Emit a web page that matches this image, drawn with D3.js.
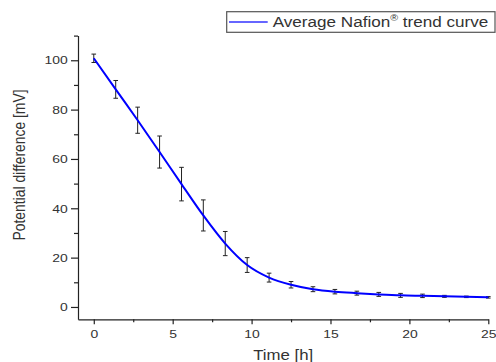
<!DOCTYPE html>
<html>
<head>
<meta charset="utf-8">
<script src="https://cdn.jsdelivr.net/npm/d3@7"></script>
<style>
  html, body { margin: 0; padding: 0; background: #fff; }
  svg { display: block; }
  text { font-family: "Liberation Sans", Arial, sans-serif; fill: #333; }
</style>
</head>
<body>
<svg id="chart" width="496" height="362"></svg>
<script>
// Data
const timeH = [0, 1.39, 2.78, 4.17, 5.56, 6.94, 8.33, 9.72, 11.11, 12.5, 13.89, 15.28, 16.67, 18.06, 19.44, 20.83, 22.22, 23.61, 25];
const potential = [100.8, 88.2, 75.7, 62.8, 49.8, 37.1, 25.7, 17.0, 11.9, 9.0, 7.2, 6.2, 5.6, 5.1, 4.7, 4.5, 4.3, 4.1, 3.9];
const errors = [1.7, 3.6, 5.3, 6.5, 6.8, 6.3, 4.9, 3.0, 1.8, 1.3, 1.0, 0.9, 0.8, 0.8, 0.8, 0.7, 0.4, 0.3, 0.3];
const xMajorTicks = [0, 5, 10, 15, 20, 25];
const xMinorTicks = [2.5, 7.5, 12.5, 17.5, 22.5];
const yMajorTicks = [0, 20, 40, 60, 80, 100];
const yMinorTicks = [10, 30, 50, 70, 90, 110];
const legendLabel = "Average Nafion";
const legendSup = "®";
const legendRest = " trend curve";
const xTitle = "Time [h]";
const yTitle = "Potential difference [mV]";

const data = timeH.map((t, i) => ({ t, v: potential[i], e: errors[i] }));

const svg = d3.select("#chart");
const SX = 1.2; // horizontal stretch of the reference's text

const x = d3.scaleLinear().domain([-1, 25]).range([78, 488.3]);
const y = d3.scaleLinear().domain([-5, 110]).range([319.3, 35.6]);

// X axis
const xAxis = svg.append("g").attr("transform", `translate(0,${y(-5)})`)
  .call(d3.axisBottom(x).tickValues(xMajorTicks).tickSize(5).tickSizeOuter(0).tickFormat(d3.format("d")));
xAxis.selectAll("text").attr("font-size", 11.6).attr("transform", `scale(${SX},1)`)
  .attr("x", function(d){ return 0; })
  .each(function(d){ d3.select(this).attr("x", 0); });
// reposition x tick labels to account for scale: place text inside tick group
xAxis.selectAll(".tick").each(function(){
  d3.select(this).select("text").attr("y", 10.5).attr("dy", "0.71em");
});
svg.append("g").attr("transform", `translate(0,${y(-5)})`)
  .call(d3.axisBottom(x).tickValues(xMinorTicks).tickSize(3).tickSizeOuter(0).tickFormat(""))
  .select(".domain").remove();

// Y axis
const yAxis = svg.append("g").attr("transform", `translate(${x(-1)},0)`)
  .call(d3.axisLeft(y).tickValues(yMajorTicks).tickSize(7).tickSizeOuter(0).tickFormat(d3.format("d")));
yAxis.selectAll("text").attr("font-size", 11.6).attr("x", -10.3 / SX).attr("transform", `scale(${SX},1)`);
svg.append("g").attr("transform", `translate(${x(-1)},0)`)
  .call(d3.axisLeft(y).tickValues(yMinorTicks).tickSize(4).tickSizeOuter(0).tickFormat(""))
  .select(".domain").remove();

svg.selectAll(".domain, .tick line").attr("stroke", "#222").attr("stroke-width", 1.2);
svg.selectAll(".tick text").attr("fill", "#333").attr("font-family", "Liberation Sans, Arial, sans-serif");

// Axis titles
svg.append("text")
  .attr("transform", `translate(${(x(-1) + x(25)) / 2},360.3) scale(${SX},1)`)
  .attr("text-anchor", "middle").attr("font-size", 14).text(xTitle);
svg.append("text")
  .attr("transform", `translate(24.5,165) scale(${SX},1) rotate(-90)`)
  .attr("text-anchor", "middle").attr("font-size", 13.9).text(yTitle);

// Error bars
const eb = svg.append("g").attr("stroke", "#222").attr("stroke-width", 1);
data.forEach(d => {
  const cx = x(d.t);
  eb.append("line").attr("x1", cx).attr("x2", cx).attr("y1", y(d.v - d.e)).attr("y2", y(d.v + d.e));
  eb.append("line").attr("x1", cx - 2.3).attr("x2", cx + 2.3).attr("y1", y(d.v - d.e)).attr("y2", y(d.v - d.e));
  eb.append("line").attr("x1", cx - 2.3).attr("x2", cx + 2.3).attr("y1", y(d.v + d.e)).attr("y2", y(d.v + d.e));
});

// Trend curve
const line = d3.line().x(d => x(d.t)).y(d => y(d.v)).curve(d3.curveMonotoneX);
svg.append("path").datum(data).attr("d", line)
  .attr("fill", "none").attr("stroke", "#0000ff").attr("stroke-width", 2);

// Legend
const lg = svg.append("g");
lg.append("rect").attr("x", 226.7).attr("y", 11.7).attr("width", 268.3).attr("height", 20.6)
  .attr("fill", "#fff").attr("stroke", "#555").attr("stroke-width", 1.2);
lg.append("line").attr("x1", 229).attr("x2", 267.7).attr("y1", 22).attr("y2", 22)
  .attr("stroke", "#3333ff").attr("stroke-width", 1.6);
const lt = lg.append("text").attr("transform", `translate(272.7,26.6) scale(1.18,1)`)
  .attr("font-size", 14.5).attr("fill", "#222");
lt.append("tspan").text(legendLabel);
lt.append("tspan").attr("font-size", 9).attr("dy", -5.5).text(legendSup);
lt.append("tspan").attr("dy", 5.5).text(legendRest);
</script>
</body>
</html>
